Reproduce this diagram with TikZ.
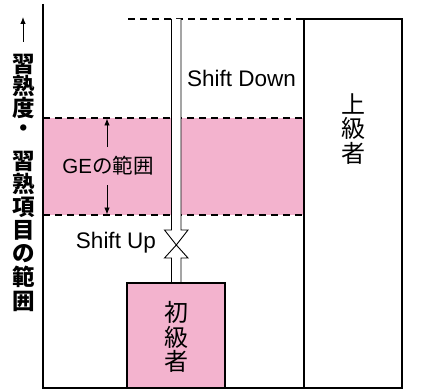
\documentclass[tikz,border=0pt]{standalone}
\usepackage{fontspec}
\setmainfont{Liberation Sans}
\newfontfamily\jp{Noto Sans CJK JP}
\usetikzlibrary{arrows.meta}
\definecolor{pinkfill}{RGB}{243,179,206}
\tikzset{
  band/.style={fill=pinkfill, draw=none},
  guide/.style={dash pattern=on 7pt off 5pt, line width=1.1pt},
  boxline/.style={draw, line width=1.8pt},
  shaft/.style={draw, fill=white, line width=0.9pt, line join=miter},
  jplabel/.style={font=\jp\fontsize{24}{24.5}\selectfont, align=center, inner sep=0pt},
  sidelabel/.style={font=\jp\bfseries\fontsize{22.5}{23}\selectfont, inner sep=0pt},
  en/.style={font=\fontsize{22.5}{24}\selectfont, inner sep=0pt},
  tipline/.style={-{Latex[length=7pt,width=5.5pt]}, line width=0.9pt}
}
\begin{document}
\begin{tikzpicture}[x=1pt,y=-1pt]
\useasboundingbox (0,0) rectangle (427,390);
% GE band
\fill[band] (43,118) rectangle (304,215);
\draw[guide] (43,118) -- (304,118);
\draw[guide] (43,215) -- (304,215);
\draw[guide] (128,19) -- (304,19);
% shift arrows
\filldraw[shaft] (171.5,19) -- (171.5,230) -- (164.5,230) -- (176.3,245) -- (188,230) -- (181,230) -- (181,19);
\filldraw[shaft] (171.5,283) -- (171.5,258) -- (164.5,258) -- (176.3,245) -- (188,258) -- (181,258) -- (181,283);
% boxes
\draw[boxline, fill=white] (304,19) rectangle (402,388);
\draw[boxline, fill=pinkfill] (127,283) rectangle (225,388);
% axis
\draw[line width=2pt] (43,4) -- (43,388) -- (403,388);
% texts
\node[jplabel] (adv) at (353,129) {上\\級\\者};
\node[jplabel] (beg) at (176,337) {初\\級\\者};
\node[en, anchor=base] (sd) at (241.5,87) {Shift Down};
\node[en, anchor=base] (su) at (116,248) {Shift Up};
\node[anchor=base, inner sep=0pt, font=\fontsize{20.5}{24}\selectfont] (ge) at (108,173) {GE{\jp の範囲}};
% GE arrows
\coordinate (geTopS) at (107,147);
\coordinate (geTopE) at (107,118.5);
\coordinate (geBotS) at (107,185);
\coordinate (geBotE) at (107,214.5);
\draw[tipline] (geTopS) -- (geTopE);
\draw[tipline] (geBotS) -- (geBotE);
% side label
\coordinate (axS) at (23,42);
\coordinate (axE) at (23,17);
\draw[tipline] (axS) -- (axE);
\foreach \c/\yy [count=\i] in {習/64,熟/86,度/108,・/131,習/161,熟/184,項/207,目/230,の/254,範/277,囲/301}
  \node[sidelabel] (side\i) at (24,\yy) {\c};
\end{tikzpicture}
\end{document}
